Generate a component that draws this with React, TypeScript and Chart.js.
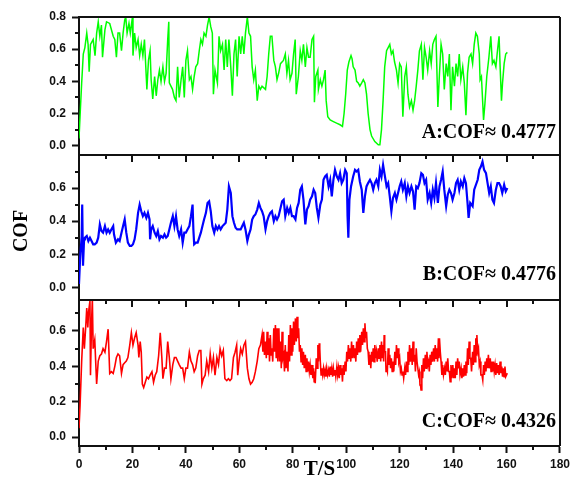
import React, { useEffect, useRef } from "react";
import { Chart, registerables } from "chart.js";

Chart.register(...registerables);

// ---------- tick labels ----------
const xTicks = [0, 20, 40, 60, 80, 100, 120, 140, 160, 180];
const xMinor = [10, 30, 50, 70, 90, 110, 130, 150, 170];
const yTicksA = [0, 0.2, 0.4, 0.6, 0.8];
const yTicksB = [0, 0.2, 0.4, 0.6];
const yTicksC = [0, 0.2, 0.4, 0.6];
const yMinor = [0.1, 0.3, 0.5, 0.7];

const labelA = "A:COF\u2248 0.4777";
const labelB = "B:COF\u2248 0.4776";
const labelC = "C:COF\u2248 0.4326";

// ---------- series A (green) ----------
const greenT = [0,0.5,1,1.6,2.2,2.9,3.4,3.8,4.3,5.3,6,6.6,7.2,7.8,8.4,8.8,9.7,10.3,11.5,12.8,13.4,14,14.6,15.2,15.9,16.5,17.1,17.5,18,18.7,19.2,20,20.2,20.8,21.4,22.1,22.7,23.3,23.9,24.5,25.2,25.4,26,26.6,27,27.6,28.3,28.9,29.5,30.1,30.7,31.4,32,32.6,33.2,33.6,33.8,34.4,35,35.7,36.3,36.9,37.5,38.2,38.8,39.4,40,40.6,41.3,41.9,42.5,43.1,43.7,44.4,45,45.6,46.2,46.8,47.5,48.1,48.7,49.3,49.9,50.3,50.9,51.8,52.4,53,53.7,54.3,54.9,55.5,56.1,56.8,57.4,58,58.6,59.2,59.9,60.5,61.1,61.7,62.3,63,63.6,64.2,64.8,65.4,66,66.7,67.3,67.9,68.5,69.8,70.4,71,71.6,72.2,72.9,73.5,74.1,74.7,75.4,76.5,77.2,77.8,78.4,79,79.7,80.3,80.9,81.3,82.1,82.8,83.4,84,84.7,85.3,85.9,86.5,87.2,87.8,88.1,88.6,89.4,89.6,90.3,90.9,91.5,92.1,92.5,93.1,94,95.2,96.4,97.7,98.6,99.2,99.8,100.4,101,101.8,102.2,102.6,103.3,103.9,104.5,105.1,105.8,106.4,107,107.6,108.2,108.9,109.5,110.7,112,112.6,113.2,113.8,114.4,115.1,115.7,116.3,116.9,117.5,118.1,118.8,119.4,120,120.6,121.2,121.9,122.5,123.1,123.7,124.4,125,125.6,126.2,126.8,127.4,128.1,128.7,129.3,129.9,130.5,131.2,131.8,132.4,133,133.6,134.3,134.9,135.5,136.1,136.7,137.4,138,138.6,139.2,139.8,140.5,141.1,141.7,142.3,142.9,143.6,144.2,144.8,145.4,146,146.7,147.3,147.9,148.5,149.1,149.8,150.1,150.6,151.4,151.9,152.6,153.4,154.1,154.7,155.3,156,156.6,157.2,157.6,158.1,158.5,159.1,159.7,160.3];
const greenV = [0.045,0.22,0.39,0.57,0.61,0.7,0.63,0.46,0.63,0.66,0.56,0.7,0.77,0.68,0.75,0.55,0.72,0.77,0.76,0.68,0.66,0.55,0.7,0.7,0.59,0.7,0.78,0.8,0.7,0.76,0.7,0.8,0.56,0.7,0.61,0.66,0.56,0.63,0.56,0.66,0.42,0.35,0.53,0.59,0.41,0.29,0.43,0.31,0.41,0.47,0.4,0.49,0.4,0.45,0.66,0.77,0.39,0.37,0.35,0.3,0.28,0.49,0.3,0.41,0.49,0.3,0.53,0.59,0.41,0.43,0.35,0.43,0.49,0.51,0.59,0.66,0.63,0.7,0.68,0.75,0.8,0.74,0.7,0.32,0.47,0.39,0.68,0.59,0.63,0.47,0.66,0.49,0.66,0.49,0.31,0.57,0.66,0.43,0.68,0.57,0.68,0.57,0.7,0.8,0.7,0.68,0.49,0.41,0.47,0.28,0.37,0.35,0.37,0.35,0.43,0.57,0.68,0.68,0.53,0.49,0.41,0.45,0.51,0.53,0.57,0.45,0.53,0.41,0.45,0.57,0.66,0.32,0.43,0.59,0.53,0.63,0.49,0.61,0.55,0.55,0.66,0.68,0.27,0.43,0.47,0.35,0.41,0.37,0.41,0.47,0.28,0.18,0.16,0.15,0.14,0.13,0.12,0.2,0.32,0.47,0.52,0.56,0.54,0.49,0.47,0.4,0.39,0.37,0.39,0.41,0.39,0.32,0.2,0.1,0.06,0.025,0.005,0.005,0.1,0.28,0.49,0.59,0.61,0.63,0.57,0.59,0.52,0.47,0.39,0.51,0.49,0.18,0.43,0.49,0.32,0.24,0.28,0.22,0.28,0.37,0.47,0.59,0.63,0.41,0.61,0.55,0.47,0.59,0.51,0.63,0.66,0.68,0.24,0.45,0.63,0.57,0.35,0.51,0.43,0.57,0.22,0.49,0.37,0.51,0.43,0.57,0.41,0.49,0.39,0.19,0.45,0.55,0.57,0.51,0.63,0.7,0.68,0.57,0.41,0.43,0.16,0.26,0.43,0.55,0.68,0.51,0.53,0.49,0.59,0.68,0.49,0.28,0.39,0.51,0.57,0.58];

// ---------- series B (blue) ----------
const blueT = [0,0.4,1,1.2,1.5,1.9,2.2,2.9,3.5,4.1,4.7,5.3,5.9,6.6,7.2,7.8,8.4,9,9.7,10.3,10.9,11.5,12.1,12.8,13.1,13.8,14.6,15.2,15.9,16.5,17.1,17.7,18.3,19,19.6,20.2,20.8,21.4,22.1,22.7,23.3,23.9,24.5,25.2,25.8,26.4,26.6,27,27.6,28.3,28.9,29.5,30.1,30.7,31.4,32,32.6,33.2,33.8,34.4,35.1,35.7,36.3,36.9,37.5,38.2,38.8,39.4,40,40.6,41.3,41.9,42.5,42.8,43.1,43.7,44.4,45,45.6,46.2,46.8,47.5,48.1,48.7,49.3,49.9,50.6,51.2,51.8,52.4,53,53.7,54.3,54.9,55.5,56.1,56.8,57.4,58,58.6,59.2,59.9,60.5,61.1,61.7,62.3,63,63.6,64.2,64.8,65.4,66,66.7,67.3,67.9,68.5,69.1,69.8,70.4,71,71.6,72.2,72.9,73.5,74.1,74.7,76,76.6,77.2,77.9,78.5,79.1,79.7,80.3,81,81.6,82.2,82.8,83.4,84,84.7,85.3,85.9,86.5,87.2,87.8,88.4,89,89.6,90.3,90.9,91.5,92.1,92.7,93.4,94,94.6,95.2,95.8,96.5,97.1,97.7,98.3,98.9,99.6,100.2,100.5,100.8,101.2,101.8,102.6,103.3,103.9,104.5,105.1,105.8,106.4,107,107.6,108.2,108.9,109.5,110.1,110.7,111.3,112,112.6,113.2,113.8,114.4,115.1,115.7,116.3,116.9,117.5,118.2,118.8,119.4,120,120.6,121.2,121.9,122.5,123.1,123.7,124.4,125,125.6,126.2,126.8,127.4,128.1,128.7,129.3,129.9,130.5,131.2,131.8,132.4,133,133.6,134.3,134.9,135.5,136.1,136.7,137.4,138,138.6,139.2,139.8,140.5,141.1,141.7,142.3,142.9,143.6,144.2,144.8,145.4,145.8,146.4,147.3,147.9,149.2,149.8,150.4,151,151.6,152.3,152.9,153.5,154.1,154.7,155.3,156,156.6,157.2,157.8,158.4,159.1,159.7,160.3];
const blueV = [0.02,0.17,0.31,0.5,0.13,0.29,0.3,0.31,0.28,0.3,0.28,0.26,0.26,0.27,0.3,0.38,0.34,0.33,0.37,0.33,0.35,0.33,0.35,0.37,0.32,0.27,0.29,0.28,0.33,0.37,0.41,0.33,0.27,0.25,0.25,0.26,0.29,0.35,0.45,0.5,0.46,0.43,0.45,0.42,0.45,0.41,0.29,0.35,0.37,0.33,0.31,0.34,0.29,0.31,0.3,0.32,0.3,0.31,0.35,0.39,0.43,0.37,0.43,0.35,0.31,0.35,0.27,0.33,0.33,0.35,0.37,0.43,0.5,0.35,0.26,0.27,0.27,0.3,0.33,0.37,0.41,0.45,0.51,0.52,0.46,0.37,0.33,0.37,0.35,0.37,0.35,0.37,0.38,0.39,0.47,0.61,0.57,0.43,0.39,0.36,0.35,0.35,0.35,0.37,0.39,0.35,0.28,0.32,0.35,0.41,0.43,0.44,0.47,0.51,0.48,0.46,0.43,0.35,0.4,0.43,0.45,0.46,0.4,0.43,0.41,0.43,0.52,0.53,0.43,0.48,0.45,0.48,0.43,0.43,0.41,0.48,0.51,0.59,0.61,0.53,0.38,0.47,0.49,0.53,0.55,0.59,0.57,0.48,0.42,0.5,0.53,0.65,0.67,0.68,0.61,0.65,0.55,0.65,0.71,0.67,0.65,0.69,0.63,0.65,0.71,0.69,0.43,0.3,0.53,0.61,0.67,0.71,0.7,0.71,0.64,0.59,0.45,0.55,0.61,0.63,0.65,0.63,0.59,0.63,0.65,0.61,0.71,0.67,0.74,0.68,0.61,0.63,0.55,0.46,0.54,0.57,0.53,0.57,0.61,0.64,0.59,0.63,0.55,0.61,0.57,0.61,0.58,0.47,0.61,0.6,0.63,0.69,0.68,0.63,0.65,0.53,0.57,0.51,0.59,0.54,0.63,0.51,0.61,0.65,0.7,0.59,0.49,0.56,0.59,0.57,0.53,0.57,0.63,0.65,0.59,0.64,0.61,0.66,0.63,0.51,0.42,0.51,0.49,0.59,0.65,0.71,0.73,0.76,0.71,0.69,0.63,0.57,0.61,0.53,0.51,0.59,0.63,0.63,0.61,0.57,0.62,0.58,0.6];

// ---------- series C (red) ----------
const redT = [0,0.4,1,1.6,2,2.5,2.9,3.3,3.6,4.1,4.3,4.7,5,5.3,5.9,6.6,7.2,7.8,8.4,9,9.7,10.3,10.9,11.5,12.1,12.8,13.4,14,14.6,15.2,15.9,16.5,17.1,17.7,18.3,19,19.6,20.2,20.8,21.4,22.1,22.4,22.9,23.3,23.7,24.2,24.8,25.4,26,26.6,27.3,27.9,28.5,29.1,29.8,30.4,31,31.4,32,32.6,33.2,33.8,34.4,35.1,35.7,36.3,36.9,37.5,38.2,38.8,39.4,40,40.6,41.3,41.9,42.5,43.1,43.7,44.4,45,45.6,46,46.5,47.2,47.8,48.5,49.1,49.7,50.3,50.9,51.6,52.2,52.8,53.4,54,54.6,55.3,55.9,56.5,57.1,57.8,58.4,59,59.4,59.9,60.5,61.1,61.7,62.3,63,63.6,64.2,64.8,65.4,66,66.7,67.3,67.9,
68.5,68.8,69.1,69.4,69.8,70.1,70.4,70.7,71,71.3,71.6,71.9,72.2,72.5,72.9,73.2,73.5,73.8,74.1,74.4,74.8,75.1,75.4,75.7,76,76.3,76.6,76.9,77.2,77.5,77.9,78.2,78.5,78.8,79.1,79.4,79.7,80,80.3,80.6,81,81.3,81.6,81.9,82.2,82.5,82.8,83.1,83.4,83.7,84,84.3,84.7,85,85.3,85.6,85.9,86.2,86.5,86.8,87.2,87.5,87.8,88,88.1,88.4,88.8,89.1,89.4,89.6,89.9,90.1,90.3,90.6,90.9,91.2,91.5,91.8,92.1,92.4,92.7,93,93.4,93.7,94,94.3,94.6,94.9,95.2,95.5,95.8,96.1,96.5,96.8,97.1,97.4,97.7,98,98.3,98.6,98.9,99.2,99.6,99.9,100.2,100.5,100.8,101.1,101.4,101.7,102,102.3,102.7,103,103.3,103.6,103.9,104.2,104.5,104.8,105.1,105.4,105.8,106.1,106.4,106.7,107,107.3,107.6,107.9,108.2,108.5,108.9,109.2,109.5,109.8,110.1,110.4,110.7,111,111.3,111.6,112,112.3,112.6,112.9,113.2,113.5,113.8,114,114.2,114.4,114.7,114.9,115.1,115.4,115.7,116,116.3,116.6,116.9,117.2,117.5,117.8,118.2,118.5,118.8,119.1,119.4,119.7,120,120.3,120.6,120.9,121.2,121.5,121.9,122.2,122.5,122.8,123.1,123.4,123.7,124,124.4,124.7,125,125.3,125.6,125.9,126.2,126.5,126.8,127.1,127.4,127.6,127.8,128,128.3,128.6,128.9,129.2,129.6,129.9,130.2,130.5,130.8,131.1,131.4,131.7,132,132.3,132.7,133,133.3,133.6,133.9,134.2,134.5,134.7,134.9,135.2,135.5,135.8,136.1,136.4,136.8,137.1,137.4,137.7,138,138.3,138.6,138.9,139.2,139.5,139.9,140.2,140.5,140.8,141.1,141.4,141.7,142,142.3,142.6,143,143.3,143.6,143.9,144.2,144.5,144.8,145.1,145.4,145.7,146,146.3,146.6,146.9,147.3,147.6,147.9,148.2,148.5,148.7,148.9,149.2,149.5,149.8,150.1,150.4,150.8,151.1,151.4,151.7,152,152.3,152.6,152.9,153.2,153.5,153.9,154.2,154.5,154.8,155.1,155.4,155.7,156,156.3,156.6,156.9,157.2,157.6,157.9,158.2,158.5,158.8,159.1,159.4,159.7,160.3];
const redV = [0.05,0.18,0.43,0.62,0.5,0.62,0.73,0.62,0.71,0.77,0.35,0.65,0.78,0.5,0.55,0.3,0.43,0.46,0.47,0.5,0.48,0.54,0.61,0.36,0.37,0.36,0.4,0.45,0.47,0.46,0.36,0.41,0.42,0.43,0.45,0.52,0.59,0.52,0.56,0.59,0.52,0.45,0.54,0.48,0.3,0.28,0.31,0.34,0.33,0.35,0.37,0.31,0.35,0.37,0.46,0.59,0.45,0.33,0.39,0.39,0.54,0.45,0.33,0.41,0.45,0.45,0.43,0.41,0.39,0.39,0.33,0.39,0.39,0.48,0.43,0.41,0.37,0.39,0.46,0.49,0.49,0.3,0.33,0.35,0.43,0.37,0.47,0.39,0.45,0.35,0.45,0.41,0.5,0.46,0.49,0.33,0.32,0.33,0.32,0.33,0.45,0.48,0.52,0.35,0.43,0.5,0.47,0.52,0.54,0.39,0.33,0.3,0.31,0.33,0.37,0.43,0.5,0.52,
0.577,0.483,0.596,0.465,0.54,0.446,0.596,0.465,0.559,0.427,0.577,0.465,0.502,0.427,0.615,0.483,0.634,0.446,0.615,0.427,0.615,0.427,0.54,0.389,0.596,0.446,0.465,0.371,0.521,0.389,0.483,0.371,0.577,0.427,0.634,0.465,0.615,0.483,0.653,0.521,0.671,0.54,0.68,0.559,0.615,0.483,0.521,0.427,0.502,0.408,0.483,0.389,0.465,0.371,0.446,0.371,0.427,0.371,0.408,0.352,0.408,0.333,0.389,0.314,0.371,0.305,0.446,0.389,0.521,0.427,0.53,0.502,0.427,0.352,0.389,0.352,0.389,0.352,0.38,0.342,0.389,0.352,0.38,0.342,0.399,0.352,0.389,0.342,0.389,0.352,0.38,0.342,0.399,0.352,0.389,0.333,0.408,0.352,0.389,0.314,0.408,0.352,0.427,0.371,0.483,0.427,0.521,0.446,0.502,0.427,0.54,0.446,0.521,0.446,0.502,0.427,0.54,0.465,0.559,0.483,0.577,0.483,0.596,0.521,0.615,0.54,0.643,0.559,0.596,0.502,0.483,0.408,0.465,0.389,0.483,0.427,0.502,0.427,0.521,0.446,0.483,0.427,0.502,0.446,0.521,0.427,0.54,0.446,0.521,0.427,0.577,0.483,0.483,0.371,0.389,0.371,0.502,0.408,0.465,0.389,0.446,0.371,0.427,0.371,0.483,0.408,0.521,0.446,0.502,0.427,0.446,0.371,0.389,0.352,0.371,0.333,0.389,0.352,0.427,0.371,0.483,0.408,0.521,0.427,0.502,0.408,0.54,0.427,0.465,0.371,0.502,0.427,0.427,0.352,0.371,0.295,0.295,0.267,0.408,0.333,0.446,0.371,0.465,0.389,0.483,0.408,0.427,0.371,0.465,0.408,0.483,0.427,0.502,0.427,0.521,0.446,0.502,0.427,0.559,0.446,0.559,0.483,0.427,0.352,0.408,0.352,0.389,0.352,0.427,0.371,0.446,0.371,0.371,0.314,0.408,0.333,0.408,0.333,0.389,0.333,0.427,0.352,0.446,0.389,0.427,0.352,0.389,0.333,0.389,0.342,0.408,0.352,0.427,0.361,0.502,0.408,0.54,0.446,0.446,0.371,0.483,0.408,0.521,0.427,0.559,0.465,0.577,0.483,0.502,0.408,0.427,0.352,0.352,0.323,0.408,0.352,0.427,0.371,0.446,0.389,0.465,0.389,0.446,0.371,0.427,0.371,0.427,0.371,0.408,0.352,0.418,0.361,0.408,0.352,0.427,0.361,0.399,0.342,0.389,0.342,0.399,0.342,0.361];

const toPoints = (t: number[], v: number[]) => t.map((x, i) => ({ x, y: v[i] }));

const INK = "#111";
const TICK_FONT = { family: "'Liberation Sans', Arial, sans-serif", size: 12, weight: "bold" as const };
const SERIF = "'Liberation Serif', 'Times New Roman', serif";

function yScale(ticks: number[], min: number, max: number, weight: number, stackWeight: number) {
  return {
    type: "linear" as const,
    position: "left" as const,
    stack: "panels",
    stackWeight,
    weight,
    min,
    max,
    afterBuildTicks: (s: any) => {
      s.ticks = ticks.map((value) => ({ value }));
    },
    afterFit: (s: any) => {
      s.width = 79;
    },
    ticks: {
      font: TICK_FONT,
      color: INK,
      padding: 6,
      callback: (v: any) => Number(v).toFixed(1),
    },
    grid: { drawOnChartArea: false, drawTicks: true, tickLength: 7, tickWidth: 2, tickColor: INK },
    border: { display: true, color: INK, width: 2 },
  };
}

const framePlugin = {
  id: "frame",
  afterDraw(chart: any) {
    const { ctx, chartArea: ca, scales } = chart;
    const x = scales.x;
    ctx.save();
    ctx.strokeStyle = INK;
    ctx.lineWidth = 2;
    ctx.lineCap = "butt";
    ctx.beginPath();
    ctx.moveTo(ca.left, ca.top);
    ctx.lineTo(ca.right, ca.top);
    ctx.moveTo(ca.right, ca.top);
    ctx.lineTo(ca.right, ca.bottom);
    // separators with inward ticks
    for (const id of ["yB", "yC"]) {
      const s = scales[id];
      const yy = Math.round(s.top);
      ctx.moveTo(ca.left, yy);
      ctx.lineTo(ca.right, yy);
      for (const v of xTicks) {
        const px = Math.round(x.getPixelForValue(v));
        ctx.moveTo(px, yy);
        ctx.lineTo(px, yy + 7);
      }
      for (const v of xMinor) {
        const px = Math.round(x.getPixelForValue(v));
        ctx.moveTo(px, yy);
        ctx.lineTo(px, yy + 4);
      }
    }
    // bottom minor ticks
    for (const v of xMinor) {
      const px = Math.round(x.getPixelForValue(v));
      ctx.moveTo(px, ca.bottom);
      ctx.lineTo(px, ca.bottom + 4);
    }
    // y minor ticks
    for (const id of ["yA", "yB", "yC"]) {
      const s = scales[id];
      for (const v of yMinor) {
        if (v > s.max) continue;
        const py = Math.round(s.getPixelForValue(v));
        ctx.moveTo(ca.left, py);
        ctx.lineTo(ca.left - 4, py);
      }
    }
    ctx.stroke();

    // panel annotations
    ctx.fillStyle = "#000";
    ctx.font = `bold 20px ${SERIF}`;
    ctx.textAlign = "right";
    ctx.textBaseline = "alphabetic";
    ctx.fillText(labelA, ca.right - 4, scales.yA.bottom - 17);
    ctx.fillText(labelB, ca.right - 4, scales.yB.bottom - 20);
    ctx.fillText(labelC, ca.right - 4, scales.yC.bottom - 19);

    // axis titles
    ctx.textAlign = "center";
    ctx.textBaseline = "middle";
    ctx.font = `bold 21px ${SERIF}`;
    ctx.fillText("T/S", (ca.left + ca.right) / 2, 470);
    ctx.save();
    ctx.translate(22, 231);
    ctx.rotate(-Math.PI / 2);
    ctx.font = `bold 20px ${SERIF}`;
    ctx.fillText("COF", 0, 0);
    ctx.restore();
    ctx.restore();
  },
};

export default function App() {
  const ref = useRef<HTMLCanvasElement | null>(null);

  useEffect(() => {
    document.body.style.margin = "0";
    const canvas = ref.current;
    if (!canvas) return;
    const chart = new Chart(canvas, {
      type: "line",
      data: {
        datasets: [
          {
            label: "A",
            data: toPoints(greenT, greenV),
            yAxisID: "yA",
            borderColor: "#00ff00",
            borderWidth: 1.5,
            pointRadius: 0,
            tension: 0,
          },
          {
            label: "B",
            data: toPoints(blueT, blueV),
            yAxisID: "yB",
            borderColor: "#0000ff",
            borderWidth: 2.2,
            pointRadius: 0,
            tension: 0,
          },
          {
            label: "C",
            data: toPoints(redT, redV),
            yAxisID: "yC",
            borderColor: "#ff0000",
            borderWidth: 1.6,
            pointRadius: 0,
            tension: 0,
          },
        ],
      },
      options: {
        animation: false,
        responsive: false,
        maintainAspectRatio: false,
        events: [],
        layout: { padding: { top: 17, right: 11, bottom: 0, left: 0 } },
        plugins: { legend: { display: false }, tooltip: { enabled: false }, title: { display: false } },
        scales: {
          x: {
            type: "linear",
            position: "bottom",
            min: 0,
            max: 180,
            afterBuildTicks: (s: any) => {
              s.ticks = xTicks.map((value) => ({ value }));
            },
            afterFit: (s: any) => {
              s.height = 40;
            },
            ticks: { font: TICK_FONT, color: INK, padding: 4, maxRotation: 0, autoSkip: false },
            grid: { drawOnChartArea: false, drawTicks: true, tickLength: 7, tickWidth: 2, tickColor: INK },
            border: { display: true, color: INK, width: 2 },
          },
          yA: yScale(yTicksA, -0.058, 0.8, 3, 138),
          yB: yScale(yTicksB, -0.077, 0.8, 2, 145),
          yC: yScale(yTicksC, -0.05, 0.775, 1, 146),
        },
      },
      plugins: [framePlugin],
    } as any);
    return () => chart.destroy();
  }, []);

  return (
    <div style={{ position: "fixed", left: 0, top: 0, width: 574, height: 486, background: "#fff" }}>
      <canvas ref={ref} width={574} height={486} style={{ width: 574, height: 486, display: "block" }} />
    </div>
  );
}
